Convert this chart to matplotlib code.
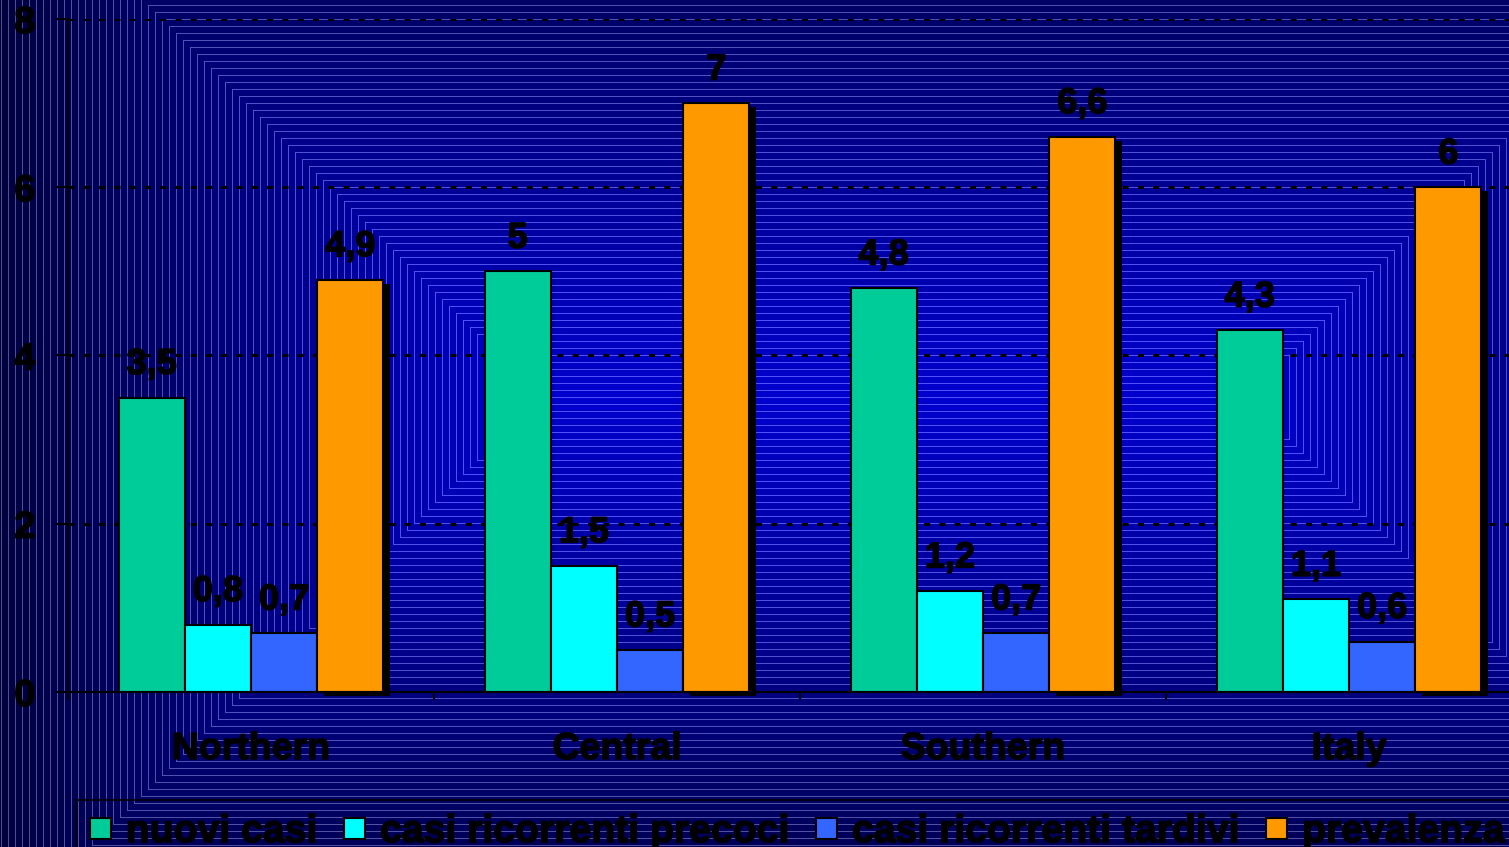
import numpy as np
import matplotlib
matplotlib.use("Agg")
import matplotlib.pyplot as plt
import matplotlib.patheffects as pe
from matplotlib.patches import Patch

# ========================
# Data
# ========================
regions = ["Northern", "Central", "Southern", "Italy"]
series_names = ["nuovi casi", "casi ricorrenti precoci",
                "casi ricorrenti tardivi", "prevalenza"]
nuovi_casi = [3.5, 5, 4.8, 4.3]
ricorrenti_precoci = [0.8, 1.5, 1.2, 1.1]
ricorrenti_tardivi = [0.7, 0.5, 0.7, 0.6]
prevalenza = [4.9, 7, 6.6, 6]
y_ticks = [0, 2, 4, 6, 8]

colors = ["#00CC99", "#00FFFF", "#3366FF", "#FF9900"]

# ========================
# Figure + background
# ========================
W, H = 1509, 847
DPI = 100
plt.rcParams['font.family'] = ['Liberation Sans', 'DejaVu Sans']
plt.rcParams['font.weight'] = 'bold'

# heavier look for every text
heavy = [pe.withStroke(linewidth=1.1, foreground='black')]

fig = plt.figure(figsize=(W / DPI, H / DPI), dpi=DPI)

# rectangular gradient, bright blue in the middle, navy towards the edges
yy, xx = np.mgrid[0:H, 0:W].astype(float)
dx = np.maximum(np.maximum(540 - xx, xx - 1247), 0)
dy = np.abs(yy - 397)
d = np.maximum(dx, dy)
step = 7.0
band = np.floor(d / step) * step
blue = np.clip(204 - 0.26 * band, 40, 255)
img = np.zeros((H, W, 3))
img[..., 2] = blue / 255
edge = (d % step) < 1.0
img[edge, 0] = 80 / 255
img[edge, 1] = 80 / 255
img[edge, 2] = np.clip(blue[edge] + 70, 0, 255) / 255
fig.figimage(img, xo=0, yo=0, origin='upper', zorder=-10)

# axes: y axis at x=68px, 0 at y=692px, 8 at y=19px; last category runs past the edge
left = 68 / W
bottom = (H - 692) / H
height = (692 - 19) / H
width = (4 * 366) / W
ax = fig.add_axes([left, bottom, width, height])
ax.set_facecolor('none')

x = np.arange(len(regions))
bw = 0.181
all_vals = [nuovi_casi, ricorrenti_precoci, ricorrenti_tardivi, prevalenza]

for i, vals in enumerate(all_vals):
    offs = (i - 1.5) * bw
    kw = {}
    if i == 3:
        kw['path_effects'] = [pe.SimplePatchShadow(offset=(5.0, -2.9),
                                                   shadow_rgbFace='black', alpha=1.0),
                              pe.Normal()]
    bars = ax.bar(x + offs, vals, width=bw, color=colors[i], edgecolor='black',
                  linewidth=1.5, zorder=3, clip_on=False, **kw)
    for xi, v in zip(x + offs, vals):
        ax.annotate(f"{v:g}".replace('.', ','), xy=(xi, v), xytext=(0, 17),
                    textcoords='offset points', ha='center', va='baseline',
                    fontsize=26, fontweight='bold', color='black', zorder=5,
                    path_effects=heavy)

ax.set_xlim(-0.5, 3.5)
ax.set_ylim(0, 8)

# gridlines, dotted black
ax.set_yticks(y_ticks)
ax.set_yticklabels([str(t) for t in y_ticks])
for t in y_ticks[1:]:
    ax.axhline(t, color='black', lw=2.2, linestyle=(0, (2.0, 3.0)), zorder=1)

ax.set_xticks(x)
ax.set_xticklabels(regions)
ax.set_xticks(np.arange(-0.5, 3.6, 1.0), minor=True)
ax.tick_params(axis='x', which='major', length=0, pad=28, labelsize=27,
               labelcolor='black')
ax.tick_params(axis='x', which='minor', length=5.8, width=1.5, direction='out',
               color='black')
ax.tick_params(axis='y', length=8.6, width=1.5, direction='out', pad=15,
               labelsize=27, color='black', labelcolor='black')
for lab in ax.get_xticklabels() + ax.get_yticklabels():
    lab.set_fontweight('bold')
    lab.set_path_effects(heavy)

for s in ['top', 'right']:
    ax.spines[s].set_visible(False)
for s in ['left', 'bottom']:
    ax.spines[s].set_linewidth(1.5)
    ax.spines[s].set_color('black')
    ax.spines[s].set_zorder(4)

# legend along the bottom, its right edge runs off the picture
handles = [Patch(facecolor=c, edgecolor='black', linewidth=1.5) for c in colors]
leg = fig.legend(handles, series_names, loc='upper left',
                 bbox_to_anchor=(76 / W, (H - 800) / H), ncol=4,
                 prop={'size': 28.2, 'weight': 'bold'},
                 handlelength=0.53, handleheight=0.45, handletextpad=0.38,
                 columnspacing=0.7, borderpad=0.36, borderaxespad=0,
                 fancybox=False, frameon=True)
leg.get_frame().set_edgecolor('black')
leg.get_frame().set_facecolor('none')
leg.get_frame().set_linewidth(1.5)
for t in leg.get_texts():
    t.set_path_effects(heavy)

fig.savefig("out.png", dpi=DPI)
